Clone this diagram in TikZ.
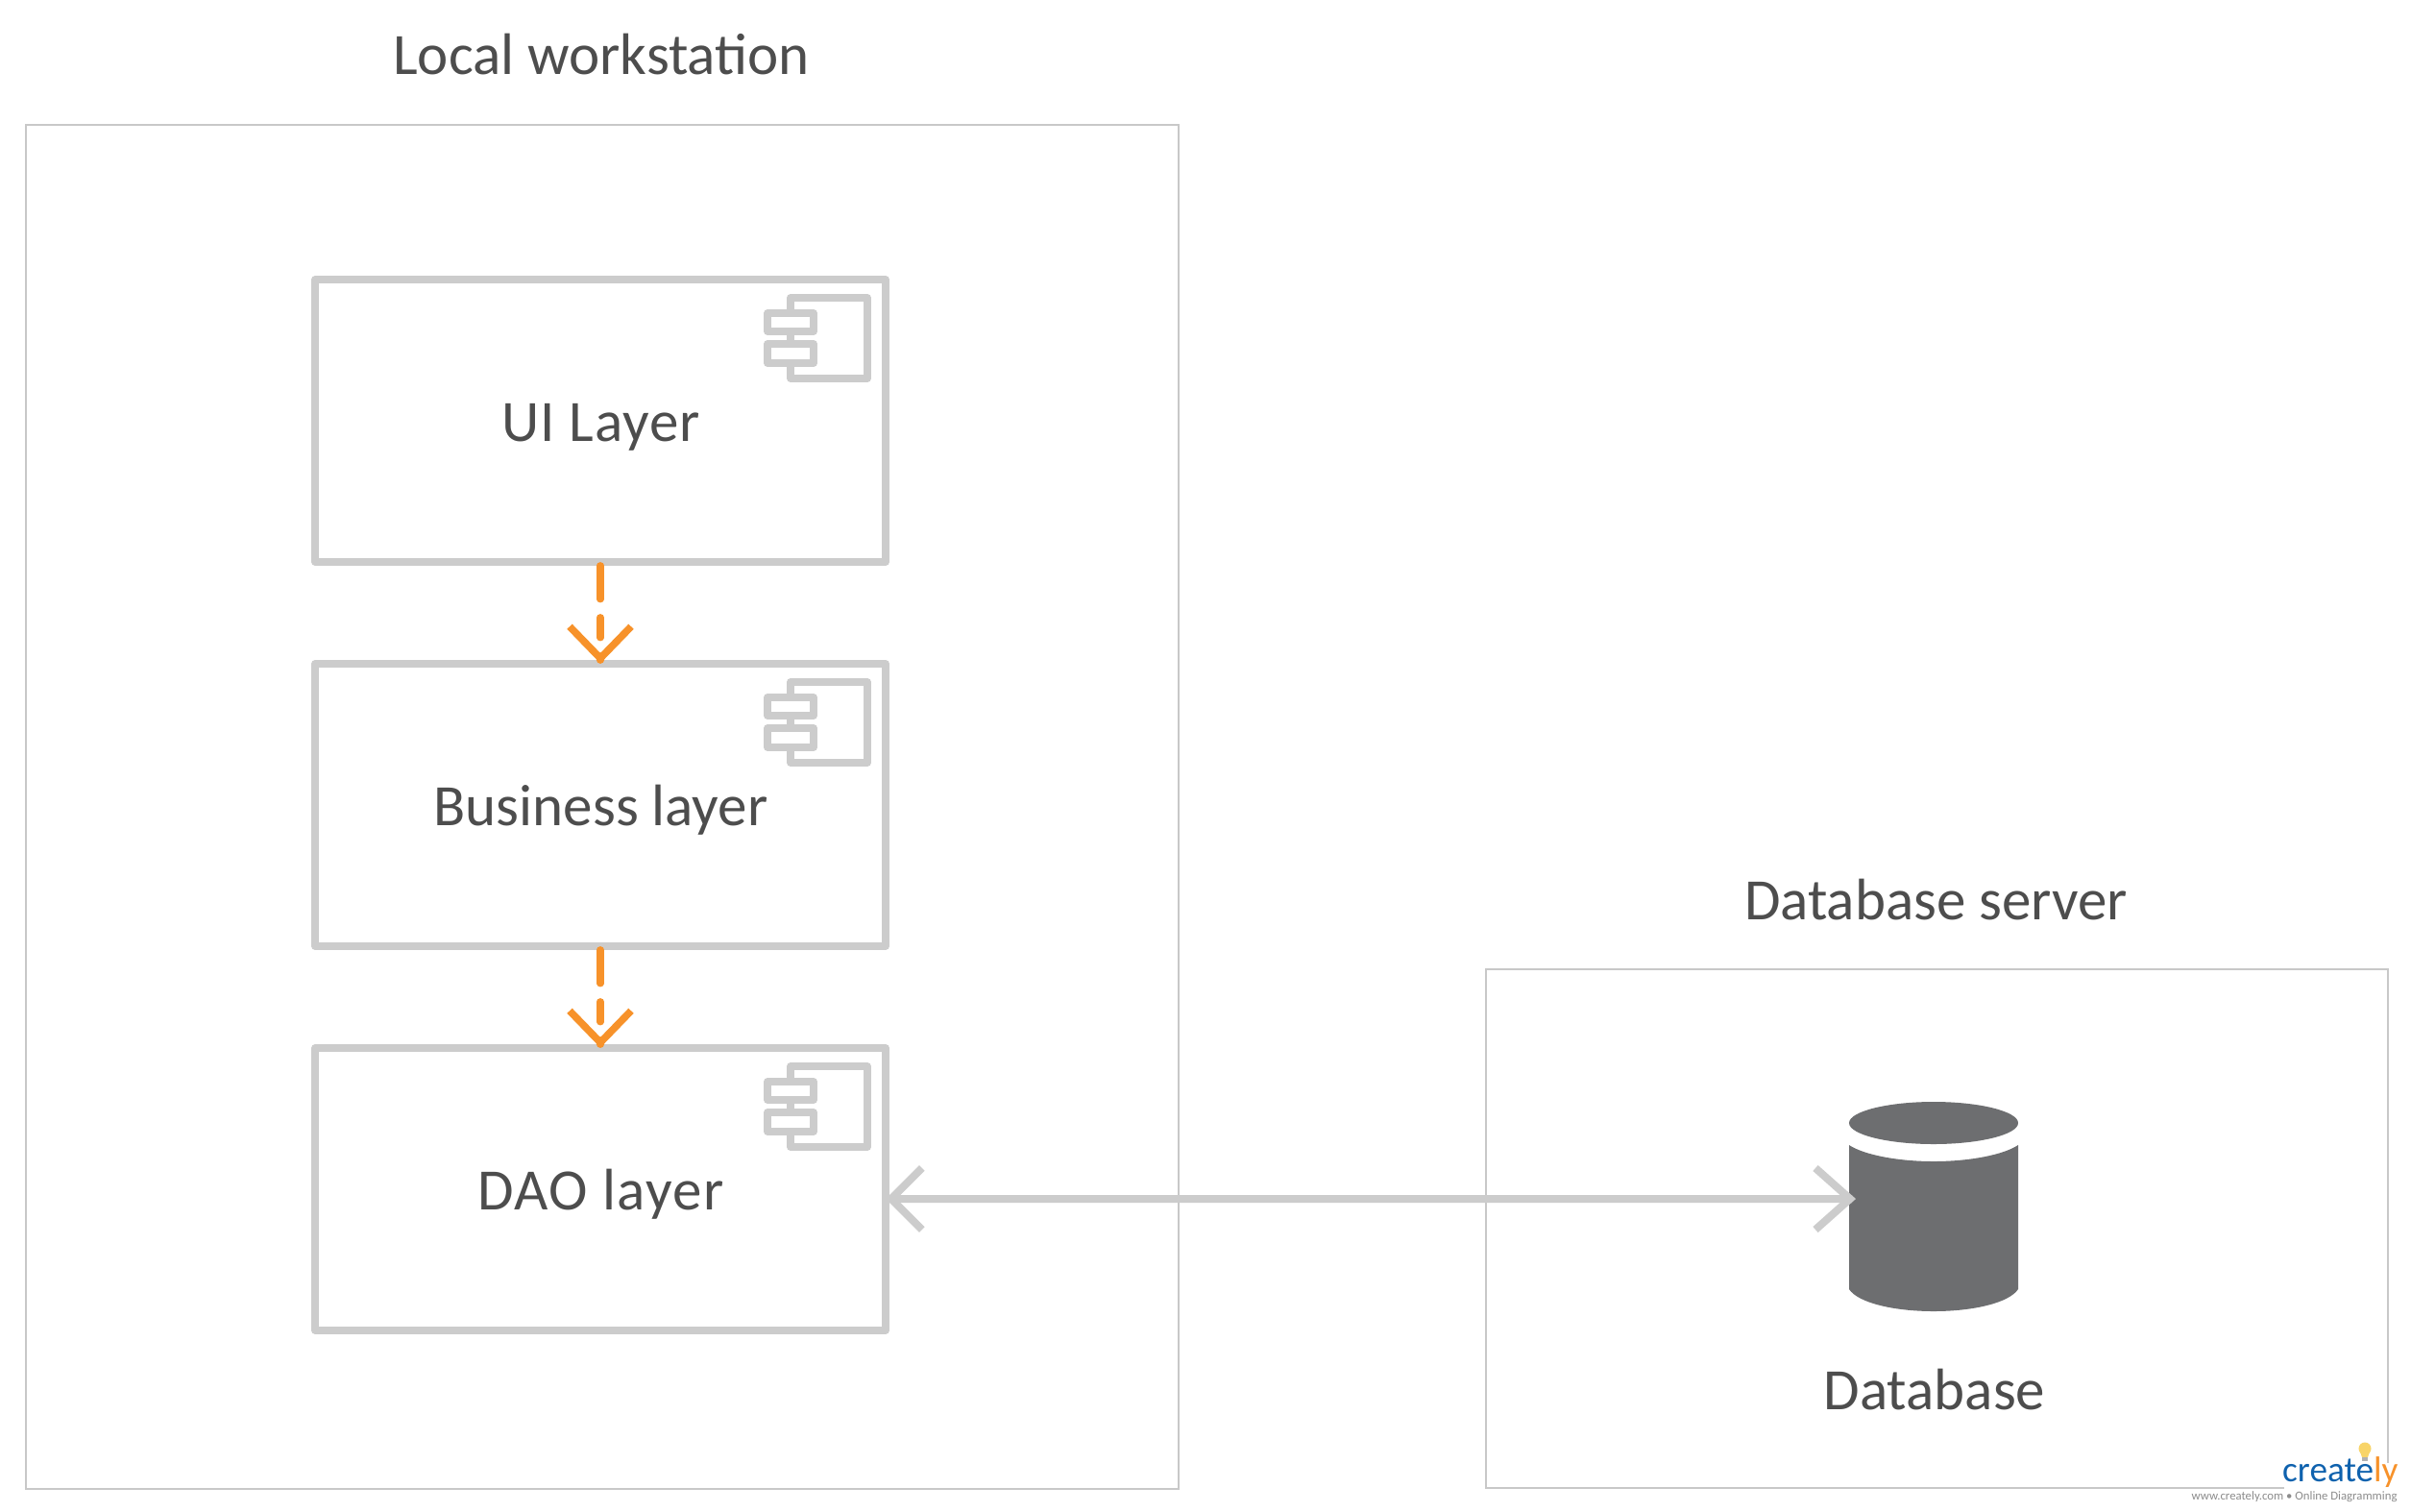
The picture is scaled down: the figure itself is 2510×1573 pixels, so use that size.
\documentclass[tikz,border=0pt]{standalone}
\usepackage{fontspec}
\setmainfont{Carlito}
\definecolor{gline}{HTML}{CCCCCC}
\definecolor{frameline}{HTML}{C8C8C8}
\definecolor{orangeline}{HTML}{F7922A}
\definecolor{txt}{HTML}{4D4D4D}
\definecolor{dbfill}{HTML}{6D6E70}
\definecolor{logoblue}{HTML}{0F62AE}
\definecolor{logobulb}{HTML}{F8D468}
\tikzset{
  x=0.4pt,y=-0.4pt,
  framebox/.style={draw=frameline,line width=1pt,fill=white,inner sep=0pt},
  compbox/.style={draw=gline,line width=3pt,line join=round,fill=white,inner sep=0pt,minimum width=237.6pt,minimum height=117.6pt},
  iconbox/.style={draw=gline,line width=3pt,line join=round,fill=white},
  labeltext/.style={text=txt,font=\fontsize{24.4pt}{27pt}\selectfont,inner sep=0pt,anchor=base},
  deparrow/.style={draw=orangeline,line width=2.9pt,line cap=round,dash pattern=on 14pt off 7.6pt on 8.4pt off 7.6pt},
  dephead/.style={draw=orangeline,line width=3pt,line join=miter},
  linkline/.style={draw=gline,line width=3.2pt},
}
\newcommand{\complayer}[3]{% name, top y, label
  \node[compbox] (#1) at (625,#2+147) {};
  \draw[iconbox] (823,#2+19) rectangle (903,#2+103);
  \draw[iconbox] (799,#2+35) rectangle (847,#2+54);
  \draw[iconbox] (799,#2+67) rectangle (847,#2+87);
  \node[labeltext] (#1label) at (625.5,#2+168) {#3};
}
\begin{document}
\begin{tikzpicture}
\useasboundingbox[fill=white] (0,0) rectangle (2510,1573);
\node[framebox,minimum width=480pt,minimum height=568pt] (localframe) at (627,840) {};
\node[labeltext] (localtitle) at (626,77) {Local workstation};
\node[framebox,minimum width=375.6pt,minimum height=216pt] (dbframe) at (2016.5,1279) {};
\node[labeltext] (dbtitle) at (2015.5,957) {Database server};
\complayer{ui}{291}{\addfontfeature{LetterSpace=1.6}UI Layer}
\complayer{bus}{691}{Business layer}
\complayer{dao}{1091}{\addfontfeature{LetterSpace=2.4}DAO layer}
% cylinder
\fill[dbfill] (1925,1169) .. controls (1925,1157) and (1965,1147) .. (2013,1147) .. controls (2061,1147) and (2101,1157) .. (2101,1169) .. controls (2101,1181) and (2061,1191) .. (2013,1191) .. controls (1965,1191) and (1925,1181) .. (1925,1169) -- cycle;
\fill[dbfill] (1925,1192) .. controls (1940,1202) and (1975,1209) .. (2013,1209) .. controls (2051,1209) and (2086,1202) .. (2101,1192) -- (2101,1342) .. controls (2092,1356) and (2055,1365) .. (2013,1365) .. controls (1971,1365) and (1934,1356) .. (1925,1342) -- cycle;
\coordinate (dbleft) at (1928,1248);
\node[labeltext] (dblabel) at (2014,1467) {Database};
% orange connectors
\draw[deparrow] (ui.south) -- (bus.north);
\draw[dephead] ([shift={(-32,-35)}]bus.north) -- ([shift={(0,-2)}]bus.north) -- ([shift={(32,-35)}]bus.north);
\draw[deparrow] (bus.south) -- (dao.north);
\draw[dephead] ([shift={(-32,-35)}]dao.north) -- ([shift={(0,-2)}]dao.north) -- ([shift={(32,-35)}]dao.north);
% link
\coordinate (daolink) at ([yshift=-4pt]dao.east);
\draw[linkline] (daolink) -- (dbleft);
\draw[linkline] ([shift={(34,-32)}]daolink) -- ([shift={(2,0)}]daolink) -- ([shift={(34,32)}]daolink);
\draw[linkline] ([shift={(-38,-32)}]dbleft) -- ([shift={(-2,0)}]dbleft) -- ([shift={(-38,32)}]dbleft);
% logo
\fill[white] (2378,1523) rectangle (2500,1573);
\node[inner sep=0pt,anchor=base east,font=\fontsize{14.9pt}{16pt}\selectfont] (logo) at (2497,1542) {\textcolor{logoblue}{create}\textcolor{orangeline}{ly}};
\fill[logobulb] (2462,1508) circle (6.5);
\fill[logobulb] (2456.5,1510) -- (2467.5,1510) -- (2465,1517) -- (2459,1517) -- cycle;
\fill[gray!60] (2459,1517) rectangle (2465,1521);
\node[inner sep=0pt,anchor=base east,text=gray!90,font=\fontsize{5.1pt}{6pt}\selectfont] (logourl) at (2496,1561) {www.creately.com • Online Diagramming};
\end{tikzpicture}
\end{document}
